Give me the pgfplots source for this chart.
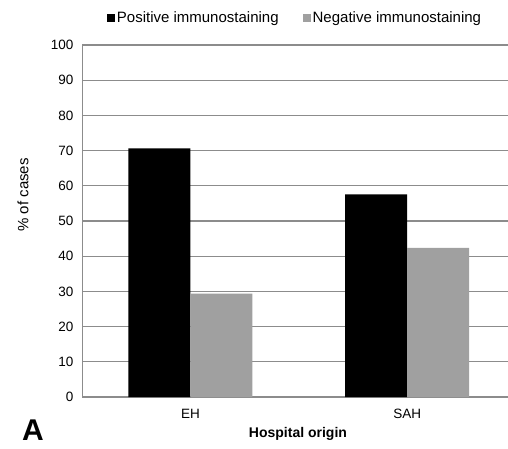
\documentclass[border=0pt]{standalone}
\usepackage{fontspec}
\setmainfont{Liberation Sans}
\usepackage{pgfplots}
\pgfplotsset{compat=1.18}
\definecolor{bargray}{RGB}{160,160,160}
\definecolor{gridc}{RGB}{140,140,140}
\begin{document}
\begin{tikzpicture}[x=1pt,y=1pt]
\useasboundingbox (0,0) rectangle (508,448);
\begin{axis}[
  at={(82pt,51pt)}, anchor=south west,
  width=426pt, height=352pt, scale only axis,
  ymin=0, ymax=100, ytick={0,10,...,100},
  xmin=-0.5, xmax=1.465,
  xtick={0,1}, xticklabels={EH,SAH},
  ybar=0pt, bar width=62pt,
  ymajorgrids, grid style={gridc, line width=1.2pt},
  axis x line*=bottom, axis y line*=left,
  axis line style={gridc, line width=1pt},
  major tick length=0pt,
  /pgf/number format/assume math mode=true,
  ticklabel style={font=\fontsize{13.5}{16}\selectfont},
  yticklabel style={xshift=-5pt},
  xticklabel style={yshift=-9pt},
  xlabel={Hospital origin},
  xlabel style={at={(axis description cs:0.507,-0.105)}, anchor=center, font=\fontsize{14}{16}\selectfont\bfseries},
  ylabel={\% of cases},
  ylabel style={at={(axis description cs:-0.1385,0.574)}, anchor=center, font=\fontsize{15}{18}\selectfont},
  legend style={at={(0.5,1.077)}, anchor=center, draw=none, fill=none,
    legend columns=2, font=\fontsize{15}{18}\selectfont,
    /tikz/every even column/.append style={column sep=22pt},
    inner sep=0pt},
  legend image code/.code={\fill[#1,draw=none] (0pt,-4pt) rectangle (8pt,4pt);},
]
\addplot[fill=black, draw=none] coordinates {(0,70.6) (1,57.6)};
\addplot[fill=bargray, draw=none] coordinates {(0,29.4) (1,42.4)};
\legend{Positive immunostaining, Negative immunostaining}
\end{axis}
\node[font=\fontsize{30}{36}\selectfont\bfseries, anchor=south, inner sep=0pt] at (33,7) {A};
\end{tikzpicture}
\end{document}
